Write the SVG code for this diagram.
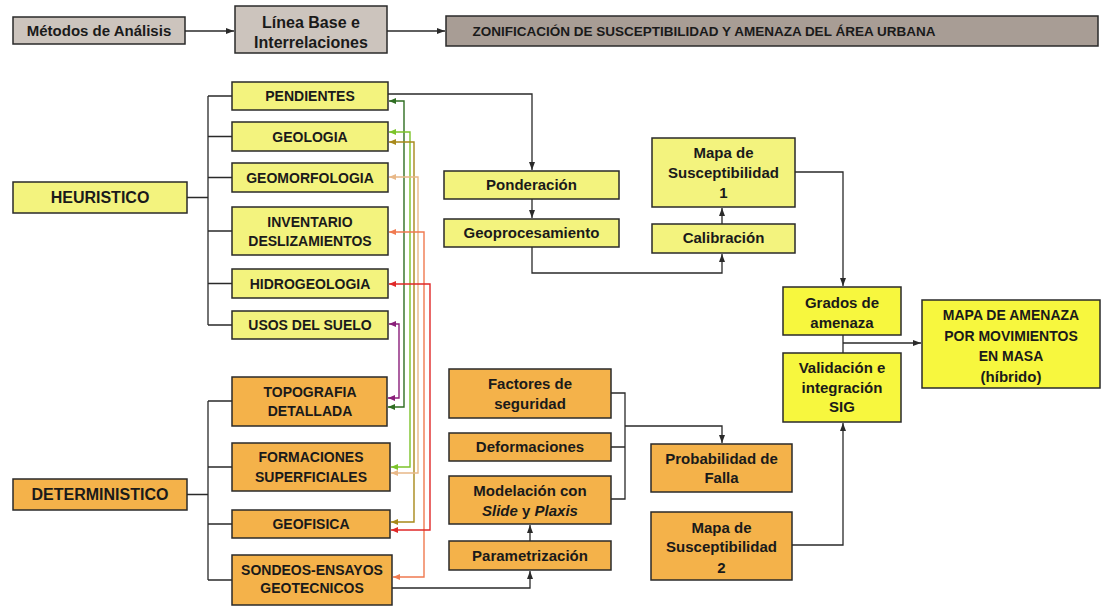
<svg xmlns="http://www.w3.org/2000/svg" width="1102" height="609" viewBox="0 0 1102 609">
<style>
text{font-family:"Liberation Sans",Arial,sans-serif;font-weight:bold;fill:#1a1a1a;text-anchor:middle}
.box{stroke:#2a2a2a;stroke-width:1.5}
.gray{fill:#ccc4bd}
.dgray{fill:#a89d95}
.ly{fill:#f3f37e}
.by{fill:#f7f73e}
.or{fill:#f4b24a}
.c{font-size:14px}
.m{font-size:15px}
.con{fill:none;stroke:#2a2a2a;stroke-width:1.3}
.cl{fill:none;stroke-width:1.4}
</style>
<defs>
<marker id="a" viewBox="0 0 8 6" refX="8" refY="3" markerWidth="8" markerHeight="6" markerUnits="userSpaceOnUse" orient="auto"><path d="M0,0L8,3L0,6z" fill="#2a2a2a"/></marker>
<marker id="mg" viewBox="0 0 7 6" refX="7" refY="3" markerWidth="7" markerHeight="6" markerUnits="userSpaceOnUse" orient="auto-start-reverse"><path d="M0,0L7,3L0,6z" fill="#2f6e22"/></marker>
<marker id="mp" viewBox="0 0 7 6" refX="7" refY="3" markerWidth="7" markerHeight="6" markerUnits="userSpaceOnUse" orient="auto-start-reverse"><path d="M0,0L7,3L0,6z" fill="#8a1f7a"/></marker>
<marker id="mb" viewBox="0 0 7 6" refX="7" refY="3" markerWidth="7" markerHeight="6" markerUnits="userSpaceOnUse" orient="auto-start-reverse"><path d="M0,0L7,3L0,6z" fill="#7cc42a"/></marker>
<marker id="mo" viewBox="0 0 7 6" refX="7" refY="3" markerWidth="7" markerHeight="6" markerUnits="userSpaceOnUse" orient="auto-start-reverse"><path d="M0,0L7,3L0,6z" fill="#a8891a"/></marker>
<marker id="mt" viewBox="0 0 7 6" refX="7" refY="3" markerWidth="7" markerHeight="6" markerUnits="userSpaceOnUse" orient="auto-start-reverse"><path d="M0,0L7,3L0,6z" fill="#e8b888"/></marker>
<marker id="ms" viewBox="0 0 7 6" refX="7" refY="3" markerWidth="7" markerHeight="6" markerUnits="userSpaceOnUse" orient="auto-start-reverse"><path d="M0,0L7,3L0,6z" fill="#f07a50"/></marker>
<marker id="mr" viewBox="0 0 7 6" refX="7" refY="3" markerWidth="7" markerHeight="6" markerUnits="userSpaceOnUse" orient="auto-start-reverse"><path d="M0,0L7,3L0,6z" fill="#e02828"/></marker>
</defs>
<rect width="1102" height="609" fill="#ffffff"/>

<g id="connectors">
<path class="con" d="M185,31H234" marker-end="url(#a)"/>
<path class="con" d="M387,31H445" marker-end="url(#a)"/>
<path class="con" d="M187,197.5H208M208,96V325M208,96H232M208,136.5H232M208,177.5H232M208,231H232M208,283.5H232M208,325H232"/>
<path class="con" d="M187,494.5H208M208,401V580M208,401H232M208,467H232M208,524H232M208,580H232"/>
<path class="con" d="M388,94H532V170" marker-end="url(#a)"/>
<path class="con" d="M532,199V218" marker-end="url(#a)"/>
<path class="con" d="M532,247V273H722V254" marker-end="url(#a)"/>
<path class="con" d="M722,224V208" marker-end="url(#a)"/>
<path class="con" d="M795,172H843V286" marker-end="url(#a)"/>
<path class="con" d="M843,335V353"/>
<path class="con" d="M843,343H921" marker-end="url(#a)"/>
<path class="con" d="M792,545H843V423" marker-end="url(#a)"/>
<path class="con" d="M392,588H530V571" marker-end="url(#a)"/>
<path class="con" d="M530,541V525" marker-end="url(#a)"/>
<path class="con" d="M611,393H625V499H611M611,447H625"/>
<path class="con" d="M625,426H722V443" marker-end="url(#a)"/>
<path class="cl" stroke="#2f6e22" d="M389,101H404V407H388" marker-start="url(#mg)" marker-end="url(#mg)"/>
<path class="cl" stroke="#8a1f7a" d="M389,324H399V398H388" marker-start="url(#mp)" marker-end="url(#mp)"/>
<path class="cl" stroke="#7cc42a" d="M389,132H410V467H391" marker-start="url(#mb)" marker-end="url(#mb)"/>
<path class="cl" stroke="#a8891a" d="M389,142H414V522H391" marker-start="url(#mo)" marker-end="url(#mo)"/>
<path class="cl" stroke="#e8b888" d="M389,177H418V473H391" marker-start="url(#mt)" marker-end="url(#mt)"/>
<path class="cl" stroke="#f07a50" d="M389,232H424V577H393" marker-start="url(#ms)" marker-end="url(#ms)"/>
<path class="cl" stroke="#e02828" d="M389,284H430V530H391" marker-start="url(#mr)" marker-end="url(#mr)"/>
</g>

<g id="metodos"><rect class="box gray" x="13" y="17" width="172" height="27"/><text class="m" x="99" y="36">Métodos de Análisis</text></g>
<g id="linea"><rect class="box gray" x="235" y="6" width="152" height="47"/><text x="311" y="27.5" font-size="16">Línea Base e</text><text x="311" y="47.5" font-size="16">Interrelaciones</text></g>
<g id="zonificacion"><rect class="box dgray" x="446" y="16" width="652" height="30"/><text x="704" y="36" font-size="13.5">ZONIFICACIÓN DE SUSCEPTIBILIDAD Y AMENAZA DEL ÁREA URBANA</text></g>

<g id="heuristico"><rect class="box ly" x="13" y="182" width="174" height="31"/><text x="100" y="203" font-size="16">HEURISTICO</text></g>
<g id="pendientes"><rect class="box ly" x="232" y="82" width="156" height="28"/><text class="c" x="310" y="101">PENDIENTES</text></g>
<g id="geologia"><rect class="box ly" x="232" y="122" width="156" height="29"/><text class="c" x="310" y="141.5">GEOLOGIA</text></g>
<g id="geomorfologia"><rect class="box ly" x="232" y="163" width="156" height="29"/><text class="c" x="310" y="182.5">GEOMORFOLOGIA</text></g>
<g id="inventario"><rect class="box ly" x="232" y="207" width="156" height="48"/><text class="c" x="310" y="227">INVENTARIO</text><text class="c" x="310" y="246">DESLIZAMIENTOS</text></g>
<g id="hidrogeologia"><rect class="box ly" x="232" y="269" width="156" height="29"/><text class="c" x="310" y="288.5">HIDROGEOLOGIA</text></g>
<g id="usos"><rect class="box ly" x="232" y="311" width="156" height="28"/><text class="c" x="310" y="330">USOS DEL SUELO</text></g>

<g id="deterministico"><rect class="box or" x="13" y="479" width="174" height="31"/><text x="100" y="500" font-size="16">DETERMINISTICO</text></g>
<g id="topografia"><rect class="box or" x="232" y="377" width="155" height="49"/><text class="c" x="310" y="397">TOPOGRAFIA</text><text class="c" x="310" y="416">DETALLADA</text></g>
<g id="formaciones"><rect class="box or" x="232" y="443" width="158" height="48"/><text class="c" x="311" y="462">FORMACIONES</text><text class="c" x="311" y="482">SUPERFICIALES</text></g>
<g id="geofisica"><rect class="box or" x="232" y="510" width="158" height="28"/><text class="c" x="311" y="529">GEOFISICA</text></g>
<g id="sondeos"><rect class="box or" x="232" y="555" width="160" height="50"/><text class="c" x="312" y="575">SONDEOS-ENSAYOS</text><text class="c" x="312" y="593">GEOTECNICOS</text></g>

<g id="ponderacion"><rect class="box ly" x="444" y="171" width="175" height="28"/><text class="m" x="531.5" y="190">Ponderación</text></g>
<g id="geoprocesamiento"><rect class="box ly" x="444" y="219" width="175" height="28"/><text class="m" x="531.5" y="238">Geoprocesamiento</text></g>
<g id="calibracion"><rect class="box ly" x="652" y="224" width="143" height="29"/><text class="m" x="723.5" y="243">Calibración</text></g>
<g id="mapa1"><rect class="box ly" x="652" y="138" width="143" height="69"/><text class="m" x="723.5" y="158">Mapa de</text><text class="m" x="723.5" y="178">Susceptibilidad</text><text class="m" x="723.5" y="198">1</text></g>

<g id="grados"><rect class="box by" x="783" y="287" width="118" height="48"/><text class="m" x="842" y="308">Grados de</text><text class="m" x="842" y="328">amenaza</text></g>
<g id="validacion"><rect class="box by" x="783" y="353" width="118" height="69"/><text class="m" x="842" y="373">Validación e</text><text class="m" x="842" y="393">integración</text><text class="m" x="842" y="412">SIG</text></g>
<g id="mapa_amenaza"><rect class="box by" x="922" y="300" width="178" height="88"/><text class="c" x="1011" y="320">MAPA DE AMENAZA</text><text class="c" x="1011" y="341">POR MOVIMIENTOS</text><text class="c" x="1011" y="361">EN MASA</text><text class="m" x="1011" y="382">(híbrido)</text></g>

<g id="factores"><rect class="box or" x="449" y="369" width="162" height="49"/><text class="m" x="530" y="389">Factores de</text><text class="m" x="530" y="409">seguridad</text></g>
<g id="deformaciones"><rect class="box or" x="449" y="433" width="162" height="28"/><text class="m" x="530" y="452">Deformaciones</text></g>
<g id="modelacion"><rect class="box or" x="449" y="476" width="162" height="48"/><text class="m" x="530" y="496">Modelación con</text><text class="m" x="530" y="516"><tspan font-style="italic">Slide</tspan> y <tspan font-style="italic">Plaxis</tspan></text></g>
<g id="parametrizacion"><rect class="box or" x="449" y="541" width="162" height="29"/><text class="m" x="530" y="561">Parametrización</text></g>
<g id="probabilidad"><rect class="box or" x="651" y="444" width="141" height="48"/><text class="m" x="721.5" y="464">Probabilidad de</text><text class="m" x="721.5" y="483">Falla</text></g>
<g id="mapa2"><rect class="box or" x="651" y="512" width="141" height="68"/><text class="m" x="721.5" y="533">Mapa de</text><text class="m" x="721.5" y="552">Susceptibilidad</text><text class="m" x="721.5" y="573">2</text></g>
</svg>
